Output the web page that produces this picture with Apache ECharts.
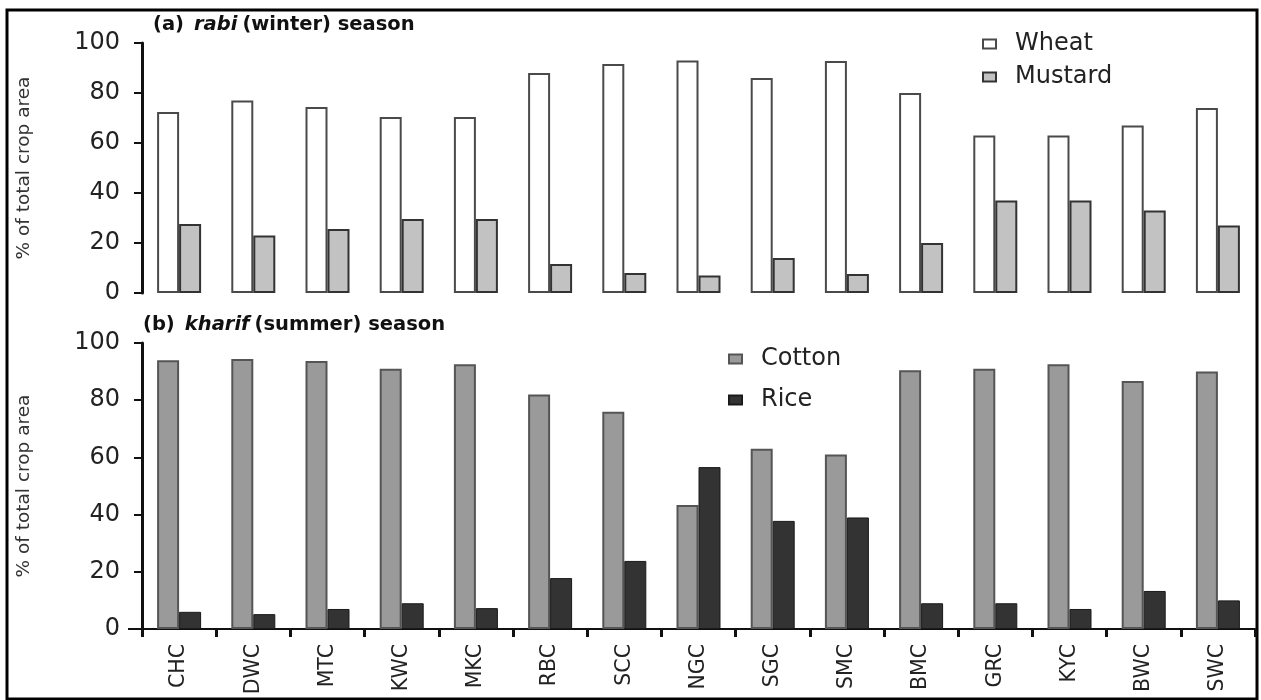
<!DOCTYPE html>
<html>
<head>
<meta charset="utf-8">
<script src="https://cdn.jsdelivr.net/npm/echarts@6/dist/echarts.min.js"></script>
<style>html,body{margin:0;padding:0;background:#fff}#c{width:1261px;height:700px}</style>
</head>
<body>
<div id="c"></div>
<script>
const categories = ['CHC','DWC','MTC','KWC','MKC','RBC','SCC','NGC','SGC','SMC','BMC','GRC','KYC','BWC','SWC'];
const wheat    = [72.4, 77, 74.4, 70.4, 70.4, 88, 91.6, 93, 86, 92.8, 80, 63, 63, 67, 74];
const mustard  = [27.6, 23, 25.6, 29.6, 29.6, 11.6, 8, 7, 14, 7.6, 20, 37, 37, 33, 27];
const cotton   = [94, 94.4, 93.7, 91, 92.6, 82, 76, 43.4, 63, 61, 90.5, 91, 92.6, 86.7, 90];
const rice     = [6, 5.2, 7, 9, 7.3, 17.8, 23.8, 56.6, 37.8, 39, 9, 9, 7, 13.3, 10];
const yTicks   = [0, 20, 40, 60, 80, 100];

const FONT = 'DejaVu Sans, Liberation Sans, sans-serif';
const chart = echarts.init(document.getElementById('c'), null, { renderer: 'canvas' });

function yAxis(gridIndex) {
  return {
    type: 'value', gridIndex: gridIndex, min: yTicks[0], max: yTicks[yTicks.length - 1],
    interval: yTicks[1] - yTicks[0],
    name: '% of total crop area', nameLocation: 'middle', nameGap: 108,
    nameTextStyle: { fontFamily: FONT, fontSize: 18.5, color: '#333' },
    axisLine: { show: true, lineStyle: { color: '#111', width: 3 } },
    axisTick: { show: true, length: 8, lineStyle: { color: '#111', width: 2 } },
    axisLabel: { fontFamily: FONT, fontSize: 24, color: '#222', margin: 22 },
    splitLine: { show: false }
  };
}

const titleRich = {
  b: { fontFamily: FONT, fontSize: 19.5, fontWeight: 'bold', color: '#111' },
  i: { fontFamily: FONT, fontSize: 19.5, fontWeight: 'bold', fontStyle: 'italic', color: '#111' }
};

const legendText = { fontFamily: FONT, fontSize: 24, color: '#222', padding: [0, 0, 0, 14] };

chart.setOption({
  animation: false,
  backgroundColor: '#fff',
  title: [
    { left: 148, top: 10, text: '{b|(a)}  {i|rabi} {b|(winter) season}', textStyle: { rich: titleRich } },
    { left: 138, top: 310, text: '{b|(b)}  {i|kharif} {b|(summer) season}', textStyle: { rich: titleRich } }
  ],
  legend: [
    { data: ['Wheat', 'Mustard'], orient: 'vertical', left: 982, top: 32, padding: 0, itemGap: 9,
      itemWidth: 13, itemHeight: 9, icon: 'rect', textStyle: legendText },
    { data: ['Cotton', 'Rice'], orient: 'vertical', left: 728, top: 347, padding: 0, itemGap: 17,
      itemWidth: 13, itemHeight: 9, icon: 'rect', textStyle: legendText }
  ],
  grid: [
    { left: 142, right: 6, top: 43, height: 250 },
    { left: 142, right: 6, top: 343, bottom: 71 }
  ],
  xAxis: [
    { type: 'category', gridIndex: 0, data: categories,
      axisLine: { show: false }, axisTick: { show: false }, axisLabel: { show: false } },
    { type: 'category', gridIndex: 1, data: categories,
      axisLine: { show: true, lineStyle: { color: '#111', width: 2 } },
      axisTick: { show: true, length: 8, lineStyle: { color: '#111', width: 3 } },
      axisLabel: { fontFamily: FONT, fontSize: 20.5, color: '#222', rotate: 90, margin: 15 } }
  ],
  yAxis: [yAxis(0), yAxis(1)],
  series: [
    { name: 'Wheat', type: 'bar', xAxisIndex: 0, yAxisIndex: 0, data: wheat,
      barWidth: 22, barGap: '0%',
      itemStyle: { color: '#ffffff', borderColor: '#4a4a4a', borderWidth: 2 } },
    { name: 'Mustard', type: 'bar', xAxisIndex: 0, yAxisIndex: 0, data: mustard,
      barWidth: 22, barGap: '0%',
      itemStyle: { color: '#c2c2c2', borderColor: '#333', borderWidth: 2 } },
    { name: 'Cotton', type: 'bar', xAxisIndex: 1, yAxisIndex: 1, data: cotton,
      barWidth: 22, barGap: '0%',
      itemStyle: { color: '#9a9a9a', borderColor: '#555', borderWidth: 2 } },
    { name: 'Rice', type: 'bar', xAxisIndex: 1, yAxisIndex: 1, data: rice,
      barWidth: 22, barGap: '0%',
      itemStyle: { color: '#333333', borderColor: '#1a1a1a', borderWidth: 1 } }
  ],
  graphic: [
    { type: 'rect', shape: { x: 7, y: 10, width: 1250, height: 689 },
      style: { fill: null, stroke: '#000', lineWidth: 3 }, silent: true },
    { type: 'line', shape: { x1: 128, y1: 629, x2: 143, y2: 629 },
      style: { stroke: '#111', lineWidth: 2 }, silent: true }
  ]
});
</script>
</body>
</html>
